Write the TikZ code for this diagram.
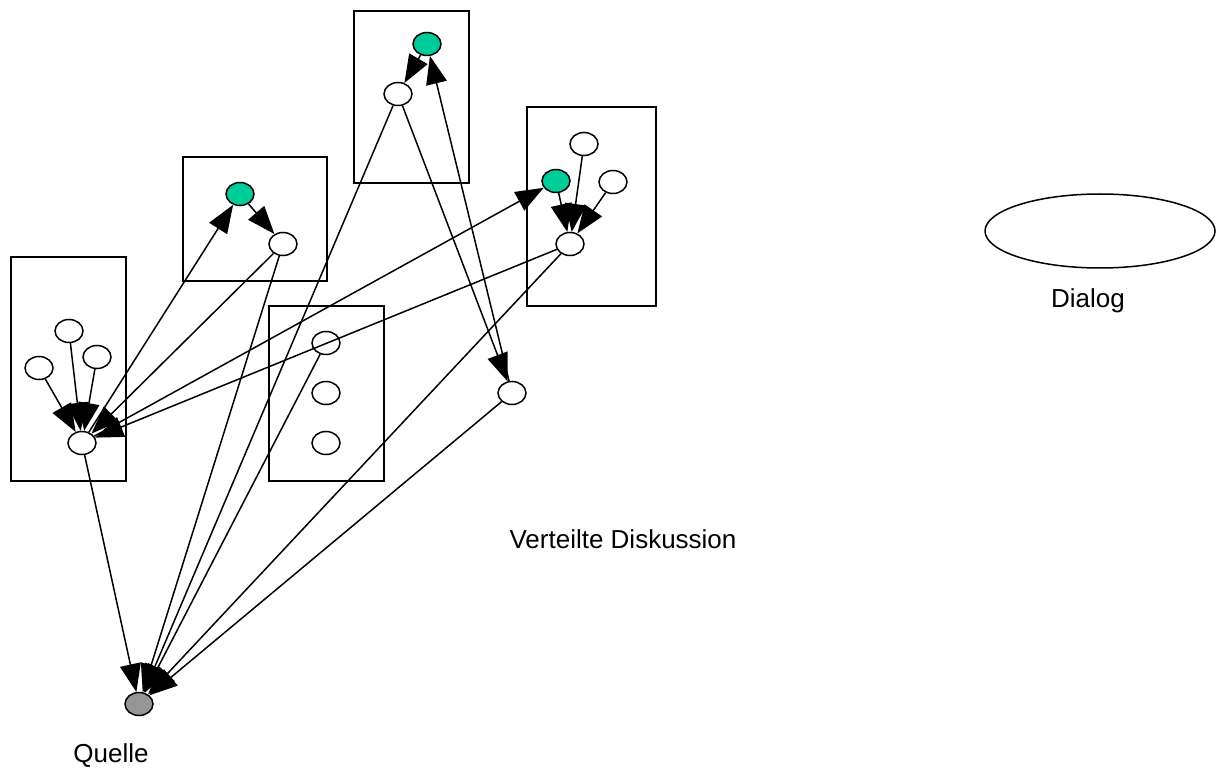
\documentclass[tikz,border=0pt]{standalone}
\usepackage{fontspec}
\setmainfont{Liberation Sans}
\usetikzlibrary{shapes.geometric,arrows.meta}
\definecolor{seagreen}{RGB}{0,204,153}
\definecolor{srcgray}{RGB}{150,150,150}
\tikzset{
  frame/.style={draw,line width=1.5pt},
  vert/.style={draw,ellipse,line width=1.5pt,fill=white,minimum width=28pt,minimum height=23pt,inner sep=0pt},
  active/.style={vert,fill=seagreen},
  source/.style={vert,fill=srcgray},
  lbl/.style={font=\fontsize{26}{30}\selectfont,inner sep=0pt},
  link/.style={line width=1.5pt,-{Triangle[length=28pt,width=21pt]}},
}
\begin{document}
\begin{tikzpicture}[x=1pt,y=-1pt]
\useasboundingbox (0,0) rectangle (1217,775);
% boxes
\draw[frame] (11,257) rectangle (126,481);
\draw[frame] (183,157) rectangle (327,281);
\draw[frame] (354,11) rectangle (469,183);
\draw[frame] (527,107) rectangle (656,306);
\draw[frame] (269,306) rectangle (384,481);
% nodes
\node[vert] (a1) at (69,331) {};
\node[vert] (a2) at (39,368) {};
\node[vert] (a3) at (97,357) {};
\node[vert] (a4) at (82,443) {};
\node[active] (b1) at (240,194) {};
\node[vert] (b2) at (283,244) {};
\node[active] (c1) at (427,44) {};
\node[vert] (c2) at (398,94) {};
\node[vert] (d1) at (584,144) {};
\node[active] (d2) at (556,181) {};
\node[vert] (d3) at (613,182) {};
\node[vert] (d4) at (570,244) {};
\node[vert] (e1) at (326,343) {};
\node[vert] (e2) at (326,393) {};
\node[vert] (e3) at (326,443) {};
\node[vert] (f) at (512,393) {};
\node[source] (q) at (139,704) {};
\node[draw,ellipse,line width=1.5pt,minimum width=230pt,minimum height=74pt,inner sep=0pt] (dialog) at (1100,231) {};
% labels
\node[lbl] (ldialog) at (1088,301) {Dialog};
\node[lbl] (lvd) at (623,539) {Verteilte Diskussion};
\node[lbl] (lq) at (111,756) {Quelle};
% edges
\draw[link] (a1) -- (a4);
\draw[link] (a2) -- (a4);
\draw[link] (a3) -- (a4);
\draw[link] (a4) -- (q);
\draw[link] (a4) -- (b1);
\draw[link] (b1) -- (b2);
\draw[link] (b2) -- (a4);
\draw[link] (b2) -- (q);
\draw[link] (c1) -- (c2);
\draw[link] (c2) -- (q);
\draw[link] (c2) -- (f);
\draw[link] (f) -- (c1);
\draw[link] (d1) -- (d4);
\draw[link] (d2) -- (d4);
\draw[link] (d3) -- (d4);
\draw[link] (a4) -- (d2);
\draw[link] (d4) -- (a4);
\draw[link] (d4) -- (q);
\draw[link] (e1) -- (q);
\draw[link] (f) -- (q);
\end{tikzpicture}
\end{document}
